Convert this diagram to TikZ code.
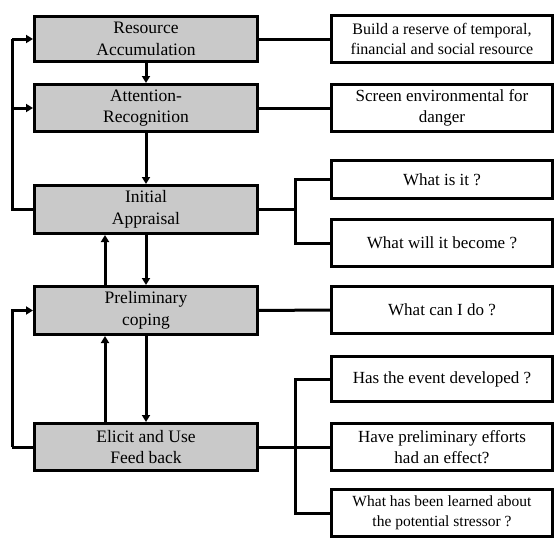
\documentclass[tikz,border=0pt]{standalone}
\usepackage{fontspec}
\setmainfont{Liberation Serif}
\usepackage{tikz}
\usetikzlibrary{arrows.meta,calc,positioning}

\begin{document}
\begin{tikzpicture}[x=1pt,y=-1pt,line cap=butt,line join=miter,
  stage/.style={draw,line width=3pt,fill=black!21,minimum width=223pt,
    align=center,font=\fontsize{17.5}{21.5}\selectfont,inner sep=0pt},
  query/.style={draw,line width=3pt,fill=white,minimum width=221pt,
    align=center,font=\fontsize{17}{21}\selectfont,inner sep=0pt},
  link/.style={line width=3pt},
  flow/.style={line width=3pt,-{Triangle[length=7pt,width=8pt]}}]
\useasboundingbox (0,0) rectangle (555,538);
%\draw[step=50,gray,very thin] (0,0) grid (555,538);

% stages on the left
\node[stage,minimum height=45pt] (accum) at (146,39) {Resource\\Accumulation};
\node[stage,minimum height=47pt] (attn) at (146,108) {Attention-\\Recognition};
\node[stage,minimum height=48pt] (appr) at (146,209.5) {Initial\\Appraisal};
\node[stage,minimum height=48pt] (prelim) at (146,310.5) {Preliminary\\coping};
\node[stage,minimum height=47pt] (feed) at (146,447) {Elicit and Use\\Feed back};

% questions on the right
\node[query,minimum height=47pt,font=\fontsize{16}{20}\selectfont] (build) at (442,39) {Build a reserve of temporal,\\financial and social resource};
\node[query,minimum height=47pt] (screen) at (442,108) {Screen environmental for\\danger};
\node[query,minimum height=38pt] (whatis) at (442,179.5) {What is it ?};
\node[query,minimum height=47pt] (become) at (442,243) {What will it become ?};
\node[query,minimum height=47pt] (cando) at (442,310) {What can I do ?};
\node[query,minimum height=45pt] (event) at (442,379) {Has the event developed ?};
\node[query,minimum height=47pt] (effort) at (442,447) {Have preliminary efforts\\had an effect?};
\node[query,minimum height=47pt,font=\fontsize{15.5}{20}\selectfont] (learned) at (442,513) {What has been learned about\\the potential stressor ?};

\coordinate (fork1) at (295,209.5);
\coordinate (fork2) at (295,447);
\coordinate (back1) at (12,209.5);
\coordinate (back2) at (12,447);

% main flow
\draw[flow] (accum) -- (attn);
\draw[flow] (attn) -- (appr);
\draw[flow] (appr) -- (prelim);
\draw[flow] (prelim) -- (feed);
\draw[flow] ([xshift=-41pt]prelim.north) -- ([xshift=-41pt]appr.south);
\draw[flow] ([xshift=-41pt]feed.north) -- ([xshift=-41pt]prelim.south);

% feedback loops
\draw[link] (appr.west) -- (back1) -- (back1 |- accum.west);
\draw[flow] (back1 |- accum.west) -- (accum.west);
\draw[flow] (back1 |- attn.west) -- (attn.west);
\draw[link] (feed.west) -- (back2);
\draw[flow] (back2) |- (prelim.west);

% questions
\draw[link] (accum) -- (build);
\draw[link] (attn) -- (screen);
\draw[link] (prelim) -- (cando);
\draw[link] (appr.east) -- (fork1);
\draw[link] (whatis.west) -| (fork1 |- become.west) -- (become.west);
\draw[link] (feed.east) -- (fork2);
\draw[link] (event.west) -| (fork2 |- learned.west) -- (learned.west);
\draw[link] (fork2) -- (effort.west);
\end{tikzpicture}
\end{document}
